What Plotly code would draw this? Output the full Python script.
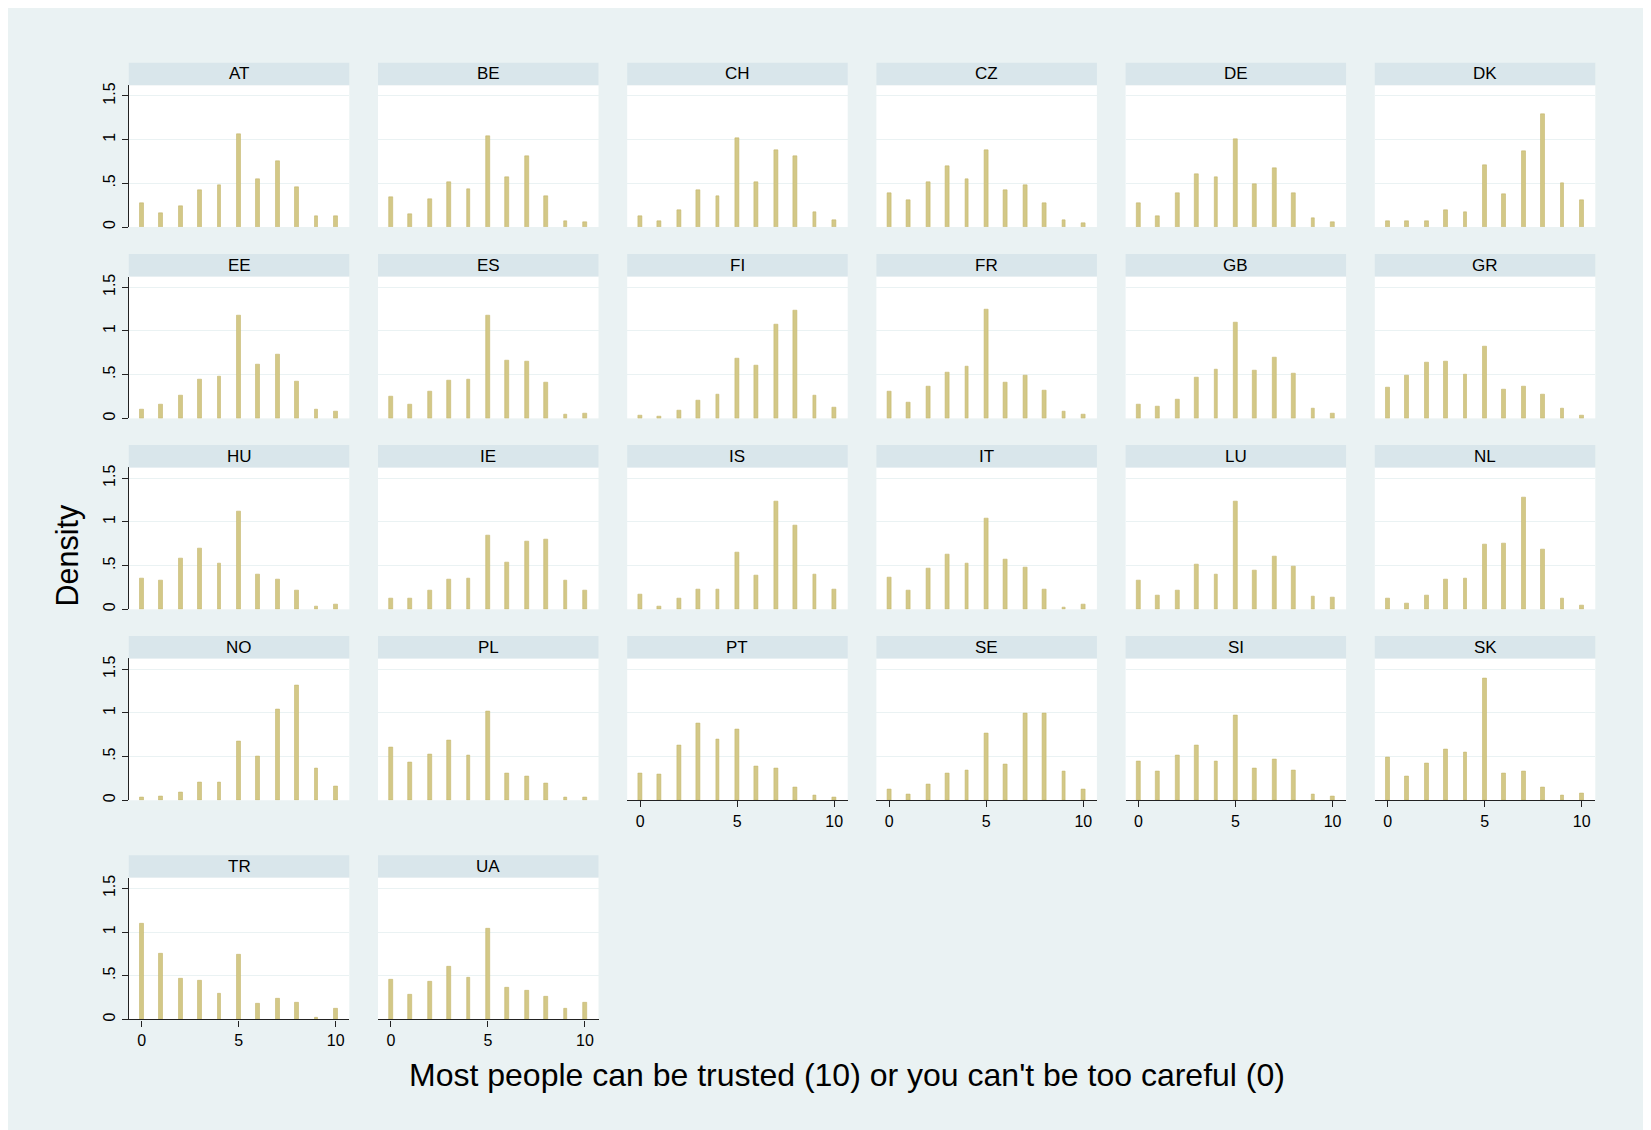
import plotly.graph_objects as go

# ---------------- data ----------------
scores = list(range(11))
tick_vals_y = [0, 0.5, 1, 1.5]
tick_text_y = ["0", ".5", "1", "1.5"]
tick_vals_x = [0, 5, 10]
tick_text_x = ["0", "5", "10"]

AT = [0.27, 0.16, 0.24, 0.42, 0.48, 1.06, 0.55, 0.75, 0.46, 0.13, 0.12]
BE = [0.34, 0.15, 0.32, 0.51, 0.43, 1.04, 0.57, 0.81, 0.35, 0.065, 0.057]
CH = [0.12, 0.065, 0.19, 0.42, 0.35, 1.015, 0.51, 0.88, 0.81, 0.17, 0.084]
CZ = [0.39, 0.31, 0.51, 0.70, 0.55, 0.88, 0.42, 0.48, 0.27, 0.084, 0.046]
DE = [0.27, 0.13, 0.39, 0.60, 0.57, 1.00, 0.49, 0.67, 0.39, 0.10, 0.057]
DK = [0.072, 0.065, 0.072, 0.19, 0.17, 0.71, 0.38, 0.87, 1.29, 0.50, 0.31]
EE = [0.10, 0.16, 0.26, 0.45, 0.48, 1.18, 0.62, 0.73, 0.42, 0.10, 0.077]
ES = [0.25, 0.16, 0.31, 0.43, 0.44, 1.18, 0.66, 0.65, 0.41, 0.043, 0.055]
FI = [0.03, 0.025, 0.09, 0.20, 0.27, 0.69, 0.61, 1.07, 1.23, 0.26, 0.12]
FR = [0.31, 0.18, 0.37, 0.53, 0.59, 1.25, 0.41, 0.49, 0.32, 0.077, 0.043]
GB = [0.16, 0.14, 0.22, 0.47, 0.56, 1.10, 0.55, 0.70, 0.51, 0.11, 0.055]
GR = [0.35, 0.49, 0.64, 0.65, 0.50, 0.82, 0.33, 0.37, 0.27, 0.11, 0.03]
HU = [0.355, 0.33, 0.58, 0.70, 0.52, 1.12, 0.40, 0.34, 0.22, 0.03, 0.06]
IE = [0.12, 0.13, 0.215, 0.34, 0.355, 0.84, 0.54, 0.78, 0.80, 0.33, 0.215]
IS = [0.17, 0.03, 0.13, 0.23, 0.23, 0.65, 0.385, 1.23, 0.96, 0.40, 0.23]
IT = [0.37, 0.22, 0.47, 0.63, 0.52, 1.045, 0.57, 0.48, 0.23, 0.02, 0.06]
LU = [0.33, 0.16, 0.215, 0.51, 0.40, 1.23, 0.44, 0.60, 0.49, 0.15, 0.14]
NL = [0.12, 0.07, 0.16, 0.34, 0.355, 0.74, 0.75, 1.28, 0.68, 0.13, 0.04]
NO = [0.034, 0.045, 0.09, 0.20, 0.20, 0.67, 0.50, 1.045, 1.31, 0.36, 0.16]
PL = [0.60, 0.43, 0.53, 0.69, 0.515, 1.02, 0.31, 0.27, 0.19, 0.034, 0.034]
PT = [0.31, 0.30, 0.63, 0.88, 0.70, 0.81, 0.39, 0.36, 0.15, 0.057, 0.034]
SE = [0.13, 0.07, 0.18, 0.31, 0.34, 0.77, 0.41, 0.99, 0.99, 0.33, 0.13]
SI = [0.44, 0.33, 0.515, 0.63, 0.44, 0.97, 0.36, 0.47, 0.34, 0.07, 0.045]
SK = [0.49, 0.27, 0.42, 0.58, 0.55, 1.39, 0.31, 0.33, 0.15, 0.057, 0.08]
TR = [1.095, 0.755, 0.47, 0.45, 0.30, 0.745, 0.18, 0.235, 0.19, 0.02, 0.13]
UA = [0.46, 0.28, 0.43, 0.60, 0.48, 1.035, 0.36, 0.33, 0.265, 0.13, 0.19]

countries = ["AT", "BE", "CH", "CZ", "DE", "DK",
             "EE", "ES", "FI", "FR", "GB", "GR",
             "HU", "IE", "IS", "IT", "LU", "NL",
             "NO", "PL", "PT", "SE", "SI", "SK",
             "TR", "UA"]
series = [AT, BE, CH, CZ, DE, DK, EE, ES, FI, FR, GB, GR,
          HU, IE, IS, IT, LU, NL, NO, PL, PT, SE, SI, SK, TR, UA]

x_title = "Most people can be trusted (10) or you can't be too careful (0)"
y_title = "Density"

# ---------------- layout (pixels, page coords minus 8px body margin) ----------------
OFF = 8
W, H = 1651 - OFF, 1130 - OFF
NCOL = 6
col_left0, col_step, plot_w = 128.8 - OFF, 249.2, 220.5
strip_tops = [t - OFF for t in (60, 252.2, 444, 635.8, 856)]
strip_h, plot_h = 22.5, 142.5
x_range = [-0.666, 10.70]
y_range = [0, 1.623]

BG = "#EAF2F3"
STRIP = "#D9E6EB"
GRID = "#EAF2F3"
BAR = "#D3C887"
BAR_EDGE = "#C6B76E"
AXIS = "#222222"
FONT = "Liberation Sans, Arial, sans-serif"

fig = go.Figure()
layout = dict(
    width=W, height=H,
    margin=dict(l=0, r=0, t=0, b=0),
    paper_bgcolor=BG, plot_bgcolor="white",
    showlegend=False, bargap=0,
    font=dict(family=FONT, color="black"),
)
shapes = []
annotations = []

n = len(countries)
bottom_in_col = {}
for i in range(n):
    bottom_in_col[i % NCOL] = i

for i, (c, vals) in enumerate(zip(countries, series)):
    r, col = divmod(i, NCOL)
    left = col_left0 + col * col_step
    top = strip_tops[r] + strip_h
    bottom = top + plot_h
    k = i + 1
    xa = "x" if k == 1 else f"x{k}"
    ya = "y" if k == 1 else f"y{k}"
    fig.add_trace(go.Bar(
        x=scores, y=vals, xaxis=xa, yaxis=ya, width=0.19,
        marker=dict(color=BAR, line=dict(color=BAR_EDGE, width=0.6)),
        hoverinfo="x+y",
    ))
    show_x = bottom_in_col[col] == i
    show_y = col == 0
    layout["xaxis" if k == 1 else f"xaxis{k}"] = dict(
        domain=[left / W, (left + plot_w) / W], range=x_range,
        anchor=ya, showgrid=False, zeroline=False,
        showline=show_x, linecolor=AXIS, linewidth=1.3,
        ticks="outside" if show_x else "", ticklen=6, tickcolor=AXIS, tickwidth=1.3,
        tickvals=tick_vals_x, ticktext=tick_text_x, showticklabels=show_x,
        tickfont=dict(size=16, family=FONT, color="black"),
    )
    layout["yaxis" if k == 1 else f"yaxis{k}"] = dict(
        domain=[1 - bottom / H, 1 - top / H], range=y_range,
        anchor=xa, showgrid=True, gridcolor=GRID, gridwidth=1.3, zeroline=False,
        showline=show_y, linecolor=AXIS, linewidth=1.3,
        ticks="outside" if show_y else "", ticklen=6, tickcolor=AXIS, tickwidth=1.3,
        tickvals=tick_vals_y, ticktext=tick_text_y, showticklabels=show_y,
        tickangle=-90, tickfont=dict(size=16, family=FONT, color="black"),
    )
    shapes.append(dict(type="rect", xref="paper", yref="paper",
                       x0=left / W, x1=(left + plot_w) / W,
                       y0=1 - top / H, y1=1 - strip_tops[r] / H,
                       fillcolor=STRIP, line=dict(width=0), layer="above"))
    annotations.append(dict(text=c, xref="paper", yref="paper",
                            x=(left + plot_w / 2) / W,
                            y=1 - (strip_tops[r] + strip_h / 2) / H,
                            showarrow=False, xanchor="center", yanchor="middle",
                            font=dict(size=17, family=FONT, color="black")))

annotations.append(dict(text=y_title, xref="paper", yref="paper",
                        x=(68 - OFF) / W, y=1 - (555 - OFF) / H, textangle=-90, showarrow=False,
                        xanchor="center", yanchor="middle",
                        font=dict(size=30.5, family=FONT, color="black")))
annotations.append(dict(text=x_title, xref="paper", yref="paper",
                        x=(847 - OFF) / W, y=1 - (1077 - OFF) / H, showarrow=False,
                        xanchor="center", yanchor="middle",
                        font=dict(size=32, family=FONT, color="black")))

layout["shapes"] = shapes
layout["annotations"] = annotations
fig.update_layout(**layout)
fig.write_html("out.html")
